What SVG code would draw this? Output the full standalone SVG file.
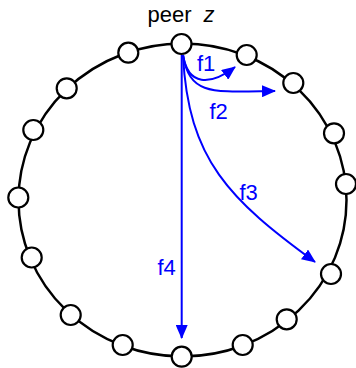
<svg xmlns="http://www.w3.org/2000/svg" width="356" height="368" viewBox="0 0 356 368">
  <style>
    .ring { fill: none; stroke: #000; stroke-width: 2.5; }
    .node { fill: #fff; stroke: #000; stroke-width: 2.2; }
    .flow { fill: none; stroke: #0000ff; stroke-width: 2; }
    .lbl { font-family: "Liberation Sans", Arial, sans-serif; font-size: 22px; fill: #0000ff; }
    .title { font-family: "Liberation Sans", Arial, sans-serif; font-size: 22px; fill: #000; }
  </style>
  <defs>
    <marker id="ah" viewBox="0 0 14 12" refX="13" refY="6" markerWidth="14" markerHeight="12" markerUnits="userSpaceOnUse" orient="auto">
      <path d="M0,0 L14,6 L0,12 Z" fill="#0000ff"/>
    </marker>
  </defs>
  <ellipse class="ring" cx="182.5" cy="200" rx="164" ry="156.5"/>
  <g id="connectors">
    <path class="flow" d="M181.7,55 L181.7,338" marker-end="url(#ah)"/>
    <path class="flow" d="M183,55 C188,86 210,86 235,67" marker-end="url(#ah)"/>
    <path class="flow" d="M183,55 C190,96 212,92 275,91" marker-end="url(#ah)"/>
    <path class="flow" d="M183,55 C188,160 230,200 315,262" marker-end="url(#ah)"/>
  </g>
  <g id="node-peer-z"><circle class="node" cx="181.5" cy="44" r="10"/><text class="title" x="147.5" y="22">peer</text><text class="title" x="203.5" y="22" font-style="italic">z</text></g>
  <g id="node-2"><circle class="node" cx="246.7" cy="55" r="10"/></g>
  <g id="node-3"><circle class="node" cx="293.3" cy="83" r="10"/></g>
  <g id="node-4"><circle class="node" cx="334" cy="133.3" r="10"/></g>
  <g id="node-5"><circle class="node" cx="346" cy="184" r="10"/></g>
  <g id="node-6"><circle class="node" cx="331" cy="274" r="10"/></g>
  <g id="node-7"><circle class="node" cx="286.7" cy="319.3" r="10"/></g>
  <g id="node-8"><circle class="node" cx="242.7" cy="345" r="10"/></g>
  <g id="node-9"><circle class="node" cx="181.7" cy="356.7" r="10"/></g>
  <g id="node-10"><circle class="node" cx="122.7" cy="345" r="10"/></g>
  <g id="node-11"><circle class="node" cx="70.7" cy="315" r="10"/></g>
  <g id="node-12"><circle class="node" cx="31.7" cy="257.5" r="10"/></g>
  <g id="node-13"><circle class="node" cx="18.3" cy="197.5" r="10"/></g>
  <g id="node-14"><circle class="node" cx="33.3" cy="130" r="10"/></g>
  <g id="node-15"><circle class="node" cx="66.7" cy="88.3" r="10"/></g>
  <g id="node-16"><circle class="node" cx="128.3" cy="52.7" r="10"/></g>
  <g id="labels">
    <text class="lbl" x="197" y="71">f1</text>
    <text class="lbl" x="209.5" y="119">f2</text>
    <text class="lbl" x="239.5" y="200">f3</text>
    <text class="lbl" x="157.5" y="275">f4</text>
  </g>
</svg>
